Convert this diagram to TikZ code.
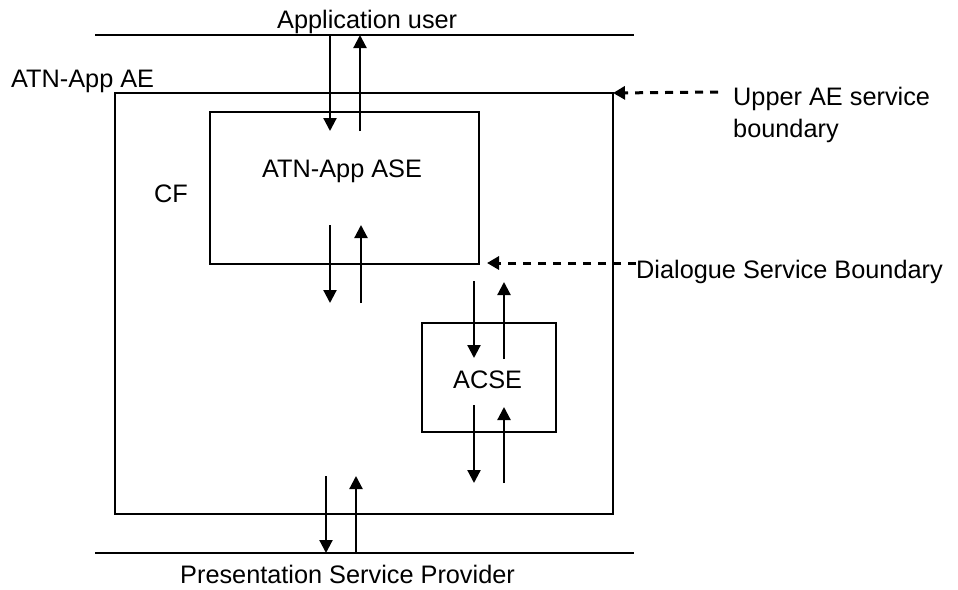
\documentclass[tikz,border=0pt]{standalone}
\usepackage{fontspec}
\setmainfont{Liberation Sans}
\usetikzlibrary{arrows.meta}
\begin{document}
\begin{tikzpicture}[x=1pt,y=-1pt,
  lbl/.style={inner sep=0pt, anchor=base west, font=\fontsize{25.3}{32}\selectfont},
  outerbox/.style={draw, line width=2.6pt, outer sep=0pt, anchor=north west},
  innerbox/.style={draw, line width=2pt, outer sep=0pt, anchor=north west},
  sig/.style={line width=2.2pt, -{Triangle[width=13pt,length=13pt]}},
  bnd/.style={line width=3pt, dash pattern=on 8pt off 7pt, -{Triangle[width=13pt,length=12pt]}},
  layer/.style={line width=2.4pt}]
\useasboundingbox (0,0) rectangle (958,589);
% boxes
\node[outerbox, minimum width=498pt, minimum height=421pt] (ae) at (115,93) {};
\node[innerbox, minimum width=269pt, minimum height=152pt] (ase) at (210,112) {};
\node[innerbox, minimum width=134pt, minimum height=109pt] (acse) at (422,323) {};
% layer lines
\coordinate (tl) at (95,35); \coordinate (tr) at (634,35);
\coordinate (bl) at (95,553); \coordinate (br) at (634,553);
\draw[layer] (tl) -- (tr);
\draw[layer] (bl) -- (br);
% labels
\node[lbl] (appuser) at (277,28) {Application user};
\node[lbl] (aelbl) at (11,87) {ATN-App AE};
\node[lbl] (cf) at (154,202) {CF};
\node[lbl] (aselbl) at (262,177) {ATN-App ASE};
\node[lbl] (acselbl) at (453,388) {ACSE};
\node[lbl] (up1) at (733,105) {Upper AE service};
\node[lbl] (up2) at (733,137) {boundary};
\node[lbl] (dsb) at (636,278) {Dialogue Service Boundary};
\node[lbl] (psp) at (180,583) {Presentation Service Provider};
% signal arrows
\draw[sig] (330,35) -- (330,131);
\draw[sig] (360,131) -- (360,35);
\draw[sig] (330,225) -- (330,303);
\draw[sig] (361,303) -- (361,225);
\draw[sig] (474,281) -- (474,358);
\draw[sig] (504,359) -- (504,282);
\draw[sig] (474,405) -- (474,483);
\draw[sig] (504,483) -- (504,407);
\draw[sig] (326,476) -- (326,553);
\draw[sig] (356,553) -- (356,476);
% boundary pointers
\coordinate (uaestart) at (718,92);
\coordinate (dsbstart) at (636,263);
\draw[bnd] (uaestart) -- (ae.north east);
\draw[bnd] (dsbstart) -- (487,263);
\end{tikzpicture}
\end{document}
